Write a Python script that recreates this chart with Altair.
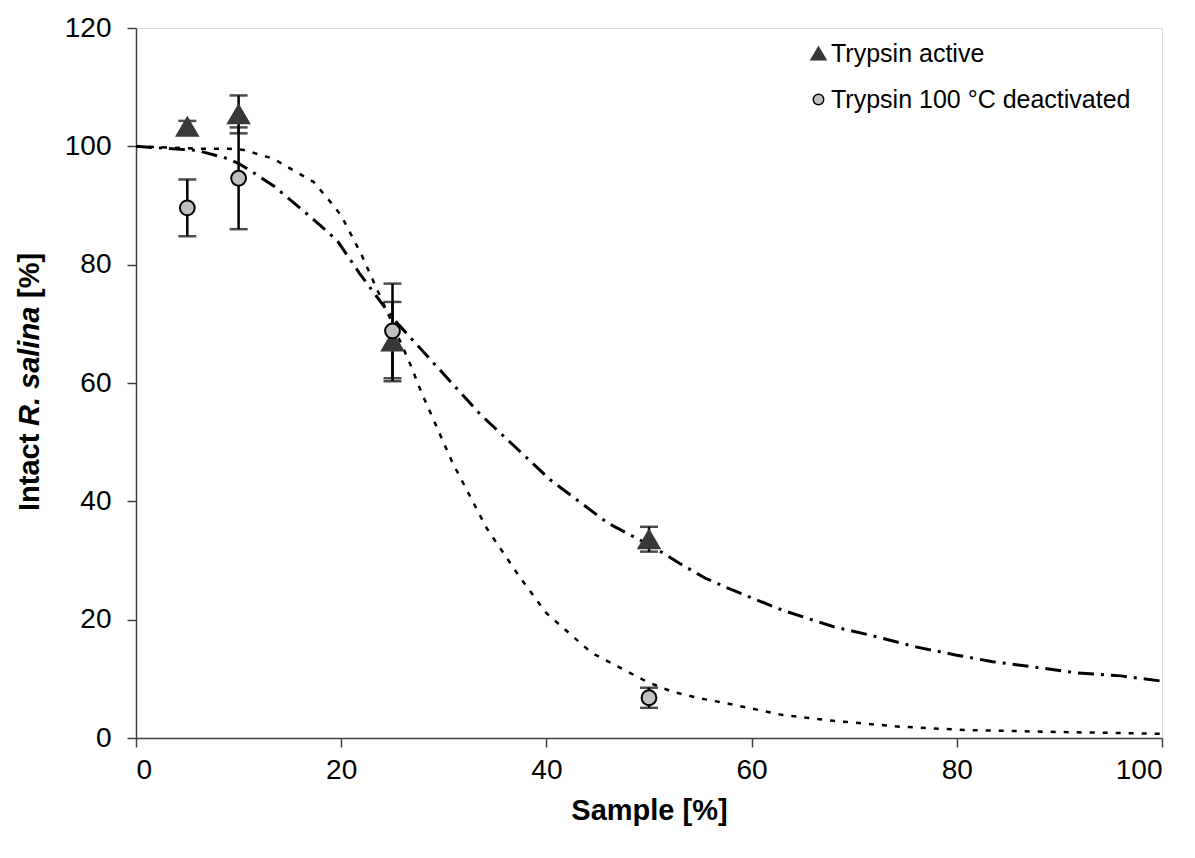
import altair as alt
import pandas as pd

FONT = "Liberation Sans"

# ---- data ----
series_names = ["Trypsin active", "Trypsin 100 °C deactivated"]

pt_x_active = [5, 10, 25, 50]
pt_y_active = [103.3, 105.4, 67.0, 33.6]
pt_err_active = [1.0, 3.2, 6.7, 2.1]

pt_x_deact = [5, 10, 25, 50]
pt_y_deact = [89.6, 94.6, 68.8, 6.8]
pt_err_deact = [4.8, 8.6, 8.0, 1.7]

curve_x_active = [0, 6, 9, 10, 11.5, 13.5, 17, 19.6, 21.8, 25, 27, 33.5, 40.4, 46, 50.4,
                  53, 55.5, 58, 63, 68, 71.5, 76, 80, 83.5, 87.5, 91.7, 96, 100]
curve_y_active = [100, 99.3, 97.9, 97.1, 95.5, 93.2, 88.1, 84.1, 78.5, 71, 67.2, 54.8, 43.6,
                  36.3, 32.3, 29.5, 27.0, 25.1, 21.6, 18.8, 17.4, 15.4, 14.0, 12.9, 12.0,
                  11.0, 10.5, 9.6]

curve_x_deact = [0, 6, 9, 10.5, 13.4, 17.3, 19.1, 20, 22, 22.8, 25, 26.7, 27.8, 30.8, 34.2,
                 37.4, 40, 44.4, 49.8, 52.3, 55, 58, 63, 68, 74.5, 81, 87.5, 100]
curve_y_deact = [100, 99.6, 99.6, 99.4, 97.9, 94.0, 90.3, 88.3, 81.6, 78.5, 70, 63.3, 58.5,
                 46.7, 35.4, 27.2, 21.1, 14.4, 9.5, 7.8, 6.7, 5.7, 3.9, 2.9, 1.9, 1.35, 1.1, 0.7]

x_ticks = [0, 20, 40, 60, 80, 100]
y_ticks = [0, 20, 40, 60, 80, 100, 120]

# ---- tables ----
pts = pd.DataFrame({
    "x": pt_x_active + pt_x_deact,
    "y": pt_y_active + pt_y_deact,
    "err": pt_err_active + pt_err_deact,
    "series": [series_names[0]] * len(pt_x_active) + [series_names[1]] * len(pt_x_deact),
})
pts["lo"] = pts["y"] - pts["err"]
pts["hi"] = pts["y"] + pts["err"]

ca = pd.DataFrame({"x": curve_x_active, "y": curve_y_active, "i": range(len(curve_x_active))})
cd = pd.DataFrame({"x": curve_x_deact, "y": curve_y_deact, "i": range(len(curve_x_deact))})

xscale = alt.Scale(domain=[0, 100], nice=False)
yscale = alt.Scale(domain=[0, 120], nice=False)

xaxis = alt.Axis(values=x_ticks, title="Sample [%]", grid=False, labelFontSize=28,
                 titleFontSize=29, titleFontWeight="bold", tickSize=9, labelPadding=9,
                 titlePadding=12, domainColor="#404040", tickColor="#404040",
                 domainWidth=1.5, tickWidth=1.5, labelColor="black", titleColor="black",
                 labelFont=FONT, titleFont=FONT)
yaxis = alt.Axis(values=y_ticks, title=None, grid=False, labelFontSize=28, tickSize=9,
                 labelPadding=16, domainColor="#404040", tickColor="#404040",
                 domainWidth=1.5, tickWidth=1.5, labelColor="black", labelFont=FONT)

line_a = alt.Chart(ca).mark_line(color="black", strokeWidth=3,
                                 strokeDash=[16, 7, 3, 7]).encode(
    x=alt.X("x:Q", scale=xscale, axis=xaxis),
    y=alt.Y("y:Q", scale=yscale, axis=yaxis),
    order="i:Q",
)
line_d = alt.Chart(cd).mark_line(color="black", strokeWidth=2.5,
                                 strokeDash=[5, 8]).encode(
    x=alt.X("x:Q", scale=xscale),
    y=alt.Y("y:Q", scale=yscale),
    order="i:Q",
)

err_rule = alt.Chart(pts).mark_rule(color="black", strokeWidth=2.5).encode(
    x=alt.X("x:Q", scale=xscale),
    y=alt.Y("lo:Q", scale=yscale),
    y2="hi:Q",
)
cap_lo = alt.Chart(pts).mark_tick(color="black", thickness=2.5, size=18,
                                  orient="horizontal").encode(
    x=alt.X("x:Q", scale=xscale), y=alt.Y("lo:Q", scale=yscale))
cap_hi = alt.Chart(pts).mark_tick(color="black", thickness=2.5, size=18,
                                  orient="horizontal").encode(
    x=alt.X("x:Q", scale=xscale), y=alt.Y("hi:Q", scale=yscale))

legend = alt.Legend(title=None, orient="none", legendX=670, legendY=13,
                    labelFont=FONT, labelFontSize=25, labelColor="black", labelLimit=500,
                    symbolSize=110, symbolStrokeWidth=1.5, rowPadding=20,
                    labelOffset=0, padding=0)

triangle_path = "M0,-1.22L1.42,1.21L-1.42,1.21Z"

points = alt.Chart(pts).mark_point(filled=True, opacity=1, strokeWidth=2, size=220).encode(
    x=alt.X("x:Q", scale=xscale),
    y=alt.Y("y:Q", scale=yscale),
    shape=alt.Shape("series:N", scale=alt.Scale(domain=series_names,
                                                range=[triangle_path, "circle"]),
                    legend=legend),
    fill=alt.Fill("series:N", scale=alt.Scale(domain=series_names,
                                              range=["#383838", "#c0c0c0"]),
                  legend=legend),
    stroke=alt.Stroke("series:N", scale=alt.Scale(domain=series_names,
                                                  range=["#383838", "black"]),
                      legend=legend),
)

# y-axis title with italic species name (rotated segments)
ytitle_parts = ["Intact", "R. salina", "[%]"]
ytitle_styles = ["normal", "italic", "normal"]
ytitle_pos = [483, 398, 270]
ytitle_layers = []
for txt, sty, pos in zip(ytitle_parts, ytitle_styles, ytitle_pos):
    ytitle_layers.append(
        alt.Chart(pd.DataFrame({"t": [txt]})).mark_text(
            angle=270, align="left", baseline="middle", font=FONT, fontSize=29,
            fontWeight="bold", fontStyle=sty, color="black"
        ).encode(text="t:N", x=alt.value(-106), y=alt.value(pos))
    )

chart = alt.layer(line_a, line_d, err_rule, cap_lo, cap_hi, points, *ytitle_layers).properties(
    width=1026, height=710,
    padding={"left": 128, "top": 20, "right": 25, "bottom": 100},
    autosize=alt.AutoSizeParams(type="none"),
).configure_view(stroke=None).configure(background="white")

chart.save("out.html", embed_options={"renderer": "svg", "actions": False})
